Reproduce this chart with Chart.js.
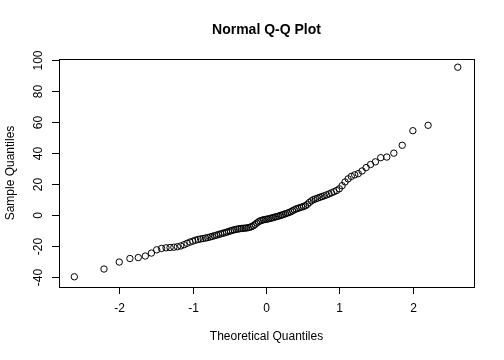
<!DOCTYPE html>
<html>
<head>
<meta charset="utf-8">
<script src="https://cdn.jsdelivr.net/npm/chart.js@4.4.1/dist/chart.umd.min.js"></script>
<style>
    html, body { margin: 0; padding: 0; background: #fff; }
    #wrap { width: 504px; height: 360px; }
</style>
</head>
<body>
<div id="wrap"><canvas id="qq-chart" width="504" height="360"></canvas></div>
<script>
// theoretical quantiles (n = 110)
const theoretical = [
    -2.612, -2.208, -2.000, -1.855, -1.741, -1.645, -1.562, -1.490, -1.424, -1.363,
    -1.308, -1.256, -1.208, -1.162, -1.118, -1.076, -1.036, -0.998, -0.961, -0.925,
    -0.891, -0.858, -0.825, -0.794, -0.763, -0.733, -0.703, -0.674, -0.646, -0.618,
    -0.590, -0.564, -0.537, -0.511, -0.485, -0.460, -0.435, -0.410, -0.385, -0.361,
    -0.337, -0.313, -0.289, -0.266, -0.242, -0.219, -0.196, -0.172, -0.149, -0.126,
    -0.103, -0.080, -0.057, -0.034, -0.011, 0.011, 0.034, 0.057, 0.080, 0.103,
    0.126, 0.149, 0.172, 0.196, 0.219, 0.242, 0.266, 0.289, 0.313, 0.337,
    0.361, 0.385, 0.410, 0.435, 0.460, 0.485, 0.511, 0.537, 0.564, 0.590,
    0.618, 0.646, 0.674, 0.703, 0.733, 0.763, 0.794, 0.825, 0.858, 0.891,
    0.925, 0.961, 0.998, 1.036, 1.076, 1.118, 1.162, 1.208, 1.256, 1.308,
    1.363, 1.424, 1.490, 1.562, 1.645, 1.741, 1.855, 2.000, 2.208, 2.612
];

// sample quantiles
const sample = [
    -40.0, -35.0, -30.5, -28.2, -27.6, -26.6, -24.7, -22.6, -21.7, -21.3,
    -21.1, -20.9, -20.6, -20.1, -19.3, -18.4, -17.6, -17.0, -16.4, -15.9,
    -15.6, -15.3, -15.0, -14.7, -14.3, -13.9, -13.5, -13.1, -12.7, -12.3,
    -11.9, -11.6, -11.2, -10.8, -10.4, -10.0, -9.7, -9.4, -9.2, -9.0,
    -8.8, -8.7, -8.6, -8.5, -8.3, -8.0, -7.6, -7.0, -6.2, -5.3,
    -4.5, -3.9, -3.5, -3.2, -3.0, -2.8, -2.6, -2.3, -2.0, -1.7,
    -1.4, -1.1, -0.8, -0.4, -0.1, 0.3, 0.7, 1.1, 1.5, 2.0,
    2.6, 3.2, 3.8, 4.2, 4.6, 5.0, 5.4, 5.9, 6.8, 8.0,
    9.0, 9.8, 10.3, 10.8, 11.3, 11.8, 12.3, 12.9, 13.5, 14.2,
    14.9, 15.7, 16.8, 18.8, 21.2, 23.2, 24.8, 25.8, 26.6, 28.3,
    30.5, 32.5, 34.2, 36.9, 37.3, 39.8, 44.9, 54.3, 57.8, 95.3
];

const xTicks = [-2, -1, 0, 1, 2];
const yTicks = [-40, -20, 0, 20, 40, 60, 80, 100];

const FONT = '"Liberation Sans", Arial, Helvetica, sans-serif';

// R style frame, ticks and labels
const rAxes = {
    id: 'rAxes',
    afterDraw(chart) {
        const ctx = chart.ctx;
        const area = chart.chartArea;
        const xs = chart.scales.x;
        const ys = chart.scales.y;
        ctx.save();
        ctx.strokeStyle = '#000';
        ctx.lineWidth = 1;
        ctx.strokeRect(Math.round(area.left) + 0.5, Math.round(area.top) + 0.5,
            Math.round(area.right - area.left), Math.round(area.bottom - area.top));

        ctx.fillStyle = '#000';
        ctx.font = '12px ' + FONT;
        ctx.textAlign = 'center';
        ctx.textBaseline = 'middle';

        // x axis
        for (let t of xTicks) {
            const px = Math.round(xs.getPixelForValue(t)) + 0.5;
            ctx.beginPath();
            ctx.moveTo(px, area.bottom);
            ctx.lineTo(px, area.bottom + 7);
            ctx.stroke();
            ctx.fillText(String(t), px, area.bottom + 22);
        }

        // y axis, labels turned like R's las = 0
        for (let t of yTicks) {
            const py = Math.round(ys.getPixelForValue(t)) + 0.5;
            ctx.beginPath();
            ctx.moveTo(area.left, py);
            ctx.lineTo(area.left - 7, py);
            ctx.stroke();
            ctx.save();
            ctx.translate(area.left - 20, py);
            ctx.rotate(-Math.PI / 2);
            ctx.fillText(String(t), 0, 0);
            ctx.restore();
        }

        // axis titles
        ctx.fillText('Theoretical Quantiles', (area.left + area.right) / 2, 337);
        ctx.save();
        ctx.translate(11, (area.top + area.bottom) / 2);
        ctx.rotate(-Math.PI / 2);
        ctx.fillText('Sample Quantiles', 0, 0);
        ctx.restore();

        // main title
        ctx.font = 'bold 14px ' + FONT;
        ctx.fillText('Normal Q-Q Plot', (area.left + area.right) / 2, 30);
        ctx.restore();
    }
};

let points = theoretical.map((q, i) => ({x: q, y: sample[i]}));

let chart = new Chart(document.getElementById('qq-chart'), {
    type: 'scatter',
    data: {
        datasets: [
            {
                label: 'Sample',
                data: points,
                pointStyle: 'circle',
                pointRadius: 3.2,
                pointBorderWidth: 1,
                borderColor: '#000',
                backgroundColor: 'rgba(0,0,0,0)'
            }
        ]
    },
    options: {
        responsive: false,
        animation: false,
        devicePixelRatio: 1,
        layout: {
            padding: {left: 59, right: 30, top: 59, bottom: 73}
        },
        scales: {
            x: {display: false, min: -2.821, max: 2.833},
            y: {display: false, min: -46.6, max: 100.6}
        },
        plugins: {
            legend: {display: false},
            tooltip: {enabled: false}
        }
    },
    plugins: [rAxes]
});
</script>
</body>
</html>
